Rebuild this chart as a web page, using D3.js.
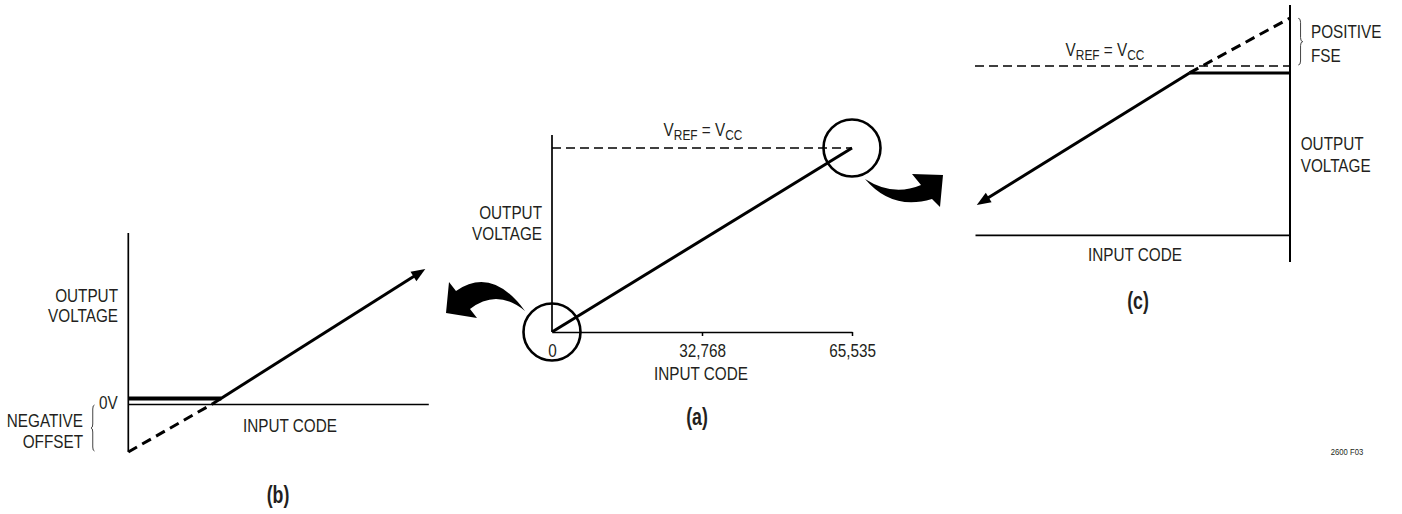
<!DOCTYPE html>
<html>
<head>
<meta charset="utf-8">
<script src="https://cdn.jsdelivr.net/npm/d3@7"></script>
<style>
  html, body { margin: 0; padding: 0; background: #fff; }
  svg { display: block; }
  text { font-family: "Liberation Sans", Arial, sans-serif; fill: #231f20; }
  .lbl { font-size: 18px; }
  .sub { font-size: 14px; }
  .cap { font-size: 24px; font-weight: bold; }
  .tiny { font-size: 9px; }
</style>
</head>
<body>
<svg id="chart" width="1402" height="514"></svg>
<script>
// ---------- data ----------
// (a) ideal DAC transfer: 16-bit input code vs. output as a fraction of VREF
const codeTicks = [0, 32768, 65535];
const codeTickLabels = ["0", "32,768", "65,535"];
const idealCodes = [0, 65535];
const idealOut = [0, 1];
const vrefLevel = 1;

// (b) zero-scale detail: negative offset, output clamps at 0V
const negIdealCodes = [0, 28];
const negIdealOut = [-16, 0];
const negRealCodes = [28, 99];
const negRealOut = [0, 45];
const negClampCodes = [0, 31];
const negClampOut = [0, 0];

// (c) full-scale detail: positive full-scale error, output clamps near VREF
const fseRealCodes = [0.6, 71.5];
const fseRealOut = [-46.3, -2.3];
const fseClampCodes = [71.5, 105];
const fseClampOut = [-2.3, -2.3];
const fseIdealCodes = [71.5, 105];
const fseIdealOut = [-2.3, 16];

const svg = d3.select("#chart");
const INK = "#000";
const NARROW = 0.85;   // condensed look for the lettering
const NARROW_BOLD = 0.74;

function pts(xs, ys) { return xs.map((x, i) => [x, ys[i]]); }

// condensed text placed at (x, y)
function txt(g, x, y, str, cls, anchor) {
  const k = cls === "cap" ? NARROW_BOLD : NARROW;
  return g.append("text").attr("class", cls)
    .attr("transform", `translate(${x},${y}) scale(${k},1)`)
    .attr("text-anchor", anchor || "start").text(str);
}

// solid / dashed polyline through scales
function drawLine(g, sx, sy, xs, ys, opts) {
  const line = d3.line().x(d => sx(d[0])).y(d => sy(d[1]));
  return g.append("path")
    .attr("d", line(pts(xs, ys)))
    .attr("fill", "none")
    .attr("stroke", INK)
    .attr("stroke-width", opts.w)
    .attr("stroke-dasharray", opts.dash || null)
    .attr("transform", opts.dy ? `translate(0,${opts.dy})` : null);
}

// line ending in a filled arrowhead at the last point
function drawArrowLine(g, sx, sy, xs, ys, w, headLen, headHalf) {
  const p = pts(xs, ys).map(d => [sx(d[0]), sy(d[1])]);
  const tip = p[p.length - 1], prev = p[p.length - 2];
  const dx = tip[0] - prev[0], dy = tip[1] - prev[1];
  const len = Math.hypot(dx, dy), ux = dx / len, uy = dy / len;
  const base = [tip[0] - ux * headLen, tip[1] - uy * headLen];
  const stop = [tip[0] - ux * (headLen - 2), tip[1] - uy * (headLen - 2)];
  const linePts = p.slice(0, -1).concat([stop]);
  g.append("path").attr("d", d3.line()(linePts))
    .attr("fill", "none").attr("stroke", INK).attr("stroke-width", w);
  g.append("path")
    .attr("d", `M${tip[0]},${tip[1]}L${base[0] - uy * headHalf},${base[1] + ux * headHalf}L${base[0] + uy * headHalf},${base[1] - ux * headHalf}Z`)
    .attr("fill", INK);
}

// plain axis line (no ticks) using d3 axes
function axisLine(g, axisFn, scale, tx, ty, w) {
  const a = g.append("g").attr("transform", `translate(${tx},${ty})`)
    .call(axisFn(scale).tickValues([]).tickSizeOuter(0));
  a.select(".domain").attr("stroke", INK).attr("stroke-width", w);
  return a;
}

// "VREF = VCC" with subscripts
function vrefLabel(g, cx, y) {
  const t = txt(g, cx, y, null, "lbl", "middle");
  t.append("tspan").text("V");
  t.append("tspan").attr("class", "sub").attr("dy", 3.5).text("REF");
  t.append("tspan").attr("dy", -3.5).text(" = V");
  t.append("tspan").attr("class", "sub").attr("dy", 3.5).text("CC");
}

function twoLine(g, x, y, anchor, l1, l2, gap) {
  txt(g, x, y, l1, "lbl", anchor);
  txt(g, x, y + gap, l2, "lbl", anchor);
}

// curly brace, ends at x, pointing in direction d (+1 right, -1 left)
function brace(g, x, y0, y1, d, w) {
  const ym = (y0 + y1) / 2, xm = x + d * w / 2, xp = x + d * w;
  const p = `M${x},${y0}Q${xm},${y0} ${xm},${y0 + 4}L${xm},${ym - 4}Q${xm},${ym} ${xp},${ym}` +
            `Q${xm},${ym} ${xm},${ym + 4}L${xm},${y1 - 4}Q${xm},${y1} ${x},${y1}`;
  g.append("path").attr("d", p).attr("fill", "none").attr("stroke", "#444").attr("stroke-width", 1);
}

// ---------- (a) ----------
const gA = svg.append("g");
const xA = d3.scaleLinear().domain([0, 65535]).range([552, 852]);
const yA = d3.scaleLinear().domain([0, 1]).range([332, 148]);
const aTop = 1.07;

// vertical axis
gA.append("line").attr("x1", xA(0)).attr("x2", xA(0)).attr("y1", yA(0)).attr("y2", yA(aTop))
  .attr("stroke", INK).attr("stroke-width", 1.7);
// horizontal axis with code ticks
const axA = gA.append("g").attr("transform", `translate(0,${yA(0)})`)
  .call(d3.axisBottom(xA).tickValues(codeTicks).tickFormat((d, i) => codeTickLabels[i])
    .tickSizeInner(4).tickSizeOuter(0).tickPadding(8));
axA.select(".domain").attr("stroke", INK).attr("stroke-width", 1.7);
axA.selectAll(".tick line").attr("stroke", INK).attr("stroke-width", 1.5)
  .filter(d => d === 0).remove();
axA.selectAll(".tick text").attr("class", "lbl").attr("font-family", null).attr("font-size", null)
  .attr("transform", `scale(${NARROW},1)`).style("fill", "#231f20");

// VREF dashed level
drawLine(gA, xA, yA, [0, 65535], [vrefLevel, vrefLevel], { w: 1.5, dash: "9,5" });
vrefLabel(gA, 703, 136);
// transfer line
drawLine(gA, xA, yA, idealCodes, idealOut, { w: 3 });
// zoom circles
[[0, 0], [65535, vrefLevel]].forEach(d => {
  gA.append("circle").attr("cx", xA(d[0])).attr("cy", yA(d[1])).attr("r", 28.5)
    .attr("fill", "none").attr("stroke", INK).attr("stroke-width", 2.6);
});
twoLine(gA, 542, 219, "end", "OUTPUT", "VOLTAGE", 21);
txt(gA, 701, 380, "INPUT CODE", "lbl", "middle");
txt(gA, 697, 425, "(a)", "cap", "middle");

// curved pointer arrows, placed relative to the zoom circles
function fatArrow(cx, cy, shape) {
  const p = shape.map(s => s[0] + s.slice(1).map((v, i) => (i % 2 === 0 ? cx + v : cy + v)).join(","));
  svg.append("path").attr("d", p.join(" ") + "Z").attr("fill", INK);
}
// toward (b)
fatArrow(xA(0), yA(0), [
  ["M", -27, -21], ["Q", -60, -66], ["", -96, -41], ["L", -103, -50], ["L", -106, -19],
  ["L", -75, -14], ["L", -82, -23], ["Q", -55, -44], ["", -27, -21]
]);
// toward (c)
fatArrow(xA(65535), yA(vrefLevel), [
  ["M", 13, 31], ["Q", 40, 63], ["", 80, 51], ["L", 88, 59], ["L", 91, 27],
  ["L", 60, 26], ["L", 69, 37], ["Q", 41, 49], ["", 13, 31]
]);

// ---------- (b) ----------
const gB = svg.append("g");
const xB = d3.scaleLinear().domain([0, 100]).range([128.3, 428.3]);
const yB = d3.scaleLinear().domain([-16, 0]).range([452, 404]);
const bTop = 57;
gB.append("line").attr("x1", xB(0)).attr("x2", xB(0)).attr("y1", yB(-16)).attr("y2", yB(bTop))
  .attr("stroke", INK).attr("stroke-width", 1.7);
axisLine(gB, d3.axisBottom, xB, 0, yB(0), 1.7);
drawLine(gB, xB, yB, negIdealCodes, negIdealOut, { w: 3, dash: "10,6" });
drawLine(gB, xB, yB, negClampCodes, negClampOut, { w: 3.8, dy: -5.5 });
drawArrowLine(gB, xB, yB, negRealCodes, negRealOut, 3, 14, 5.5);
twoLine(gB, 118, 301.5, "end", "OUTPUT", "VOLTAGE", 20);
txt(gB, 99, 408.5, "0V", "lbl", "start");
twoLine(gB, 83, 427, "end", "NEGATIVE", "OFFSET", 20.7);
brace(gB, 94.5, 405, 451, -1, 3.5);
txt(gB, 290, 432, "INPUT CODE", "lbl", "middle");
txt(gB, 278, 503, "(b)", "cap", "middle");

// ---------- (c) ----------
const gC = svg.append("g");
const xC = d3.scaleLinear().domain([0, 105]).range([975, 1290]);
const yC = d3.scaleLinear().domain([0, 16]).range([66, 18]);
const cAxisLevel = -56.3, cTop = 20.3, cBottom = -65.3;
gC.append("line").attr("x1", xC(105)).attr("x2", xC(105)).attr("y1", yC(cBottom)).attr("y2", yC(cTop))
  .attr("stroke", INK).attr("stroke-width", 2);
axisLine(gC, d3.axisBottom, xC, 0, yC(cAxisLevel), 1.7);
drawLine(gC, xC, yC, [0, 105], [0, 0], { w: 1.5, dash: "9,5" });
vrefLabel(gC, 1105, 56);
drawLine(gC, xC, yC, fseIdealCodes, fseIdealOut, { w: 3, dash: "10,6" });
drawLine(gC, xC, yC, fseClampCodes, fseClampOut, { w: 3 });
drawArrowLine(gC, xC, yC, fseRealCodes.slice().reverse(), fseRealOut.slice().reverse(), 3, 14, 5.5);
brace(gC, 1298.3, 18.3, 65, 1, 4.5);
twoLine(gC, 1311, 38, "start", "POSITIVE", "FSE", 23.7);
twoLine(gC, 1300.7, 150, "start", "OUTPUT", "VOLTAGE", 21.7);
txt(gC, 1135, 260.5, "INPUT CODE", "lbl", "middle");
txt(gC, 1138, 309, "(c)", "cap", "middle");

// figure id
txt(svg, 1347, 455, "2600 F03", "tiny", "middle");
</script>
</body>
</html>
